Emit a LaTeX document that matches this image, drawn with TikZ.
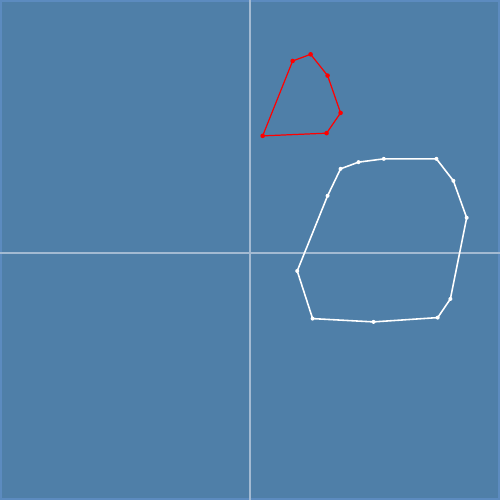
\documentclass[tikz,border=0pt]{standalone}
\usepackage{tikz}
\usetikzlibrary{calc}
\definecolor{bgblue}{HTML}{4F7FA8}
\definecolor{rim}{HTML}{5C8BBF}
\definecolor{axisln}{HTML}{A3BAD2}
\definecolor{hullred}{HTML}{FF0000}
\tikzset{
  axis/.style={draw=axisln, line width=0.3pt},
  redhull/.style={draw=hullred, line width=0.35pt},
  whitehull/.style={draw=white, line width=0.45pt},
  rdot/.style={fill=hullred, draw=none},
  wdot/.style={fill=white, draw=none},
}

\begin{document}
\begin{tikzpicture}[x=0.1mm, y=-0.1mm]
  % background and frame
  \fill[bgblue] (0,0) rectangle (500,500);
  \draw[rim, line width=0.5pt] (0.5,0.5) rectangle (499.5,499.5);
  \useasboundingbox (0,0) rectangle (500,500);
  % axes
  \coordinate (xl) at (0,253);
  \coordinate (xr) at (500,253);
  \coordinate (yt) at (250,0);
  \coordinate (yb) at (250,500);
  \draw[axis] (xl) -- (xr);
  \draw[axis] (yt) -- (yb);
  % red hull
  \coordinate (r1) at (262.7,135.7);
  \coordinate (r2) at (292.7,60.7);
  \coordinate (r3) at (310.7,54);
  \coordinate (r4) at (327.7,75.3);
  \coordinate (r5) at (340.7,112.7);
  \coordinate (r6) at (326.7,133);
  \draw[redhull] (r1) -- (r2) -- (r3) -- (r4) -- (r5) -- (r6) -- cycle;
  \foreach \p in {r1,r2,r3,r4,r5,r6}
    \fill[rdot] (\p) circle (2.3);
  % white hull
  \coordinate (w1) at (297.3,271);
  \coordinate (w2) at (327.7,195.7);
  \coordinate (w3) at (340.7,168.7);
  \coordinate (w4) at (358.7,162);
  \coordinate (w5) at (384,158.7);
  \coordinate (w6) at (436.7,158.7);
  \coordinate (w7) at (453.7,180.7);
  \coordinate (w8) at (467,217.7);
  \coordinate (w9) at (450.7,299);
  \coordinate (w10) at (438,317.7);
  \coordinate (w11) at (373.7,322);
  \coordinate (w12) at (312.7,318.7);
  \draw[whitehull] (w1) -- (w2) -- (w3) -- (w4) -- (w5) -- (w6) -- (w7)
    -- (w8) -- (w9) -- (w10) -- (w11) -- (w12) -- cycle;
  \foreach \p in {w1,w2,w3,w4,w5,w6,w7,w8,w9,w10,w11,w12}
    \fill[wdot] (\p) circle (2);
\end{tikzpicture}
\end{document}
